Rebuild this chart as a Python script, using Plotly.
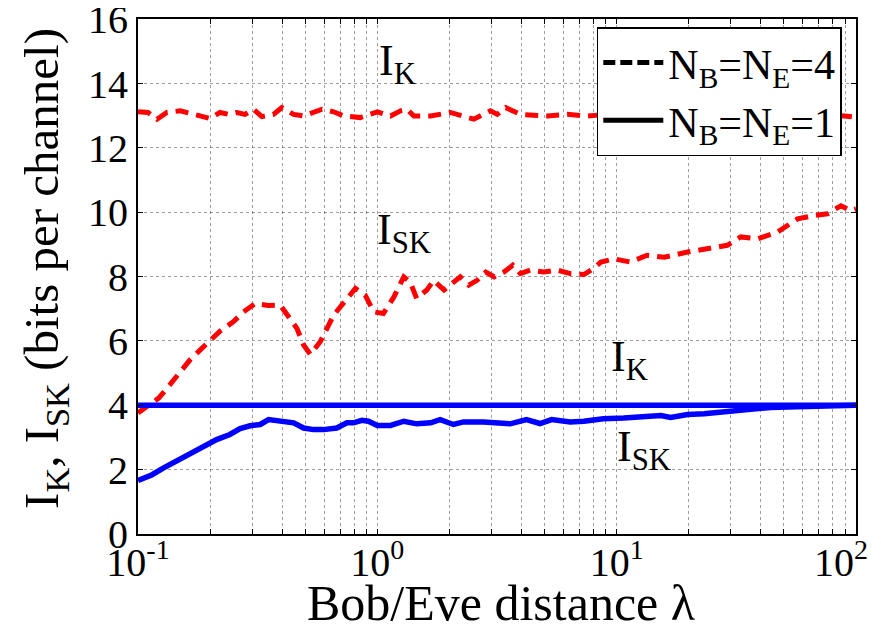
import plotly.graph_objects as go

# ---------------- data ----------------
lam_ik4 = [0.1, 0.11, 0.12, 0.132, 0.15, 0.165, 0.182, 0.2, 0.22, 0.239, 0.259, 0.28,
           0.304, 0.329, 0.368, 0.399, 0.447, 0.492, 0.541, 0.587, 0.657, 0.724, 0.849,
           1.0, 1.135, 1.25, 1.33, 1.42, 1.67, 2.02, 2.53, 2.97, 3.17, 3.44, 3.96, 5.13,
           6.22, 7.54, 9.5, 12, 15, 20, 27, 35, 45, 60, 75, 90, 100]
ik4 = [13.12, 13.1, 12.89, 13.1, 13.15, 13.07, 12.97, 12.91, 13.1, 13.04, 13.1, 13.04,
       13.2, 12.97, 13.04, 13.25, 13.04, 12.99, 13.1, 13.2, 13.12, 12.99, 12.94,
       13.12, 12.99, 13.15, 13.2, 12.99, 12.99, 13.1, 12.89, 13.15, 13.04, 13.25, 13.04, 12.99,
       13.04, 12.99, 13.05, 13.0, 13.1, 13.0, 13.05, 12.95, 13.05, 13.0, 13.05, 13.0, 12.95]

lam_isk4 = [0.1, 0.112, 0.122, 0.133, 0.147, 0.165, 0.182, 0.2, 0.22, 0.25, 0.276, 0.309,
            0.35, 0.393, 0.461, 0.492, 0.525, 0.578, 0.657, 0.81, 0.89, 0.966, 1.06, 1.17,
            1.29, 1.37, 1.46, 1.61, 1.72, 1.90, 2.05, 2.22, 2.41, 2.61, 2.84, 3.08, 3.38,
            3.68, 3.96, 4.36, 4.96, 5.65, 6.4, 7.3, 8.0, 8.6, 9.74, 11.4, 13.4, 15.8, 19.8,
            24.7, 29, 33, 38.8, 47, 57, 67, 76, 86.5, 95, 100]
isk4 = [3.76, 4.02, 4.22, 4.55, 4.94, 5.41, 5.72, 6.0, 6.3, 6.59, 6.9, 7.16,
        7.1, 7.11, 6.39, 5.87, 5.58, 5.98, 6.8, 7.63, 7.42, 6.9, 6.85, 7.35,
        7.99, 7.83, 7.32, 7.58, 7.88, 7.58, 7.78, 7.99, 7.73, 7.88, 8.14, 7.99, 8.14,
        8.35, 8.09, 8.2, 8.14, 8.2, 8.09, 8.06, 8.25, 8.45, 8.55, 8.45, 8.66, 8.6, 8.76,
        8.86, 8.97, 9.23, 9.17, 9.38, 9.79, 9.9, 9.95, 10.2, 10.05, 10.1]

lam_ik1 = [0.1, 1, 10, 100]
ik1 = [4.0, 4.0, 4.0, 4.0]

lam_isk1 = [0.1, 0.114, 0.128, 0.15, 0.176, 0.213, 0.242, 0.267, 0.294, 0.324, 0.351, 0.38,
            0.447, 0.492, 0.541, 0.596, 0.677, 0.746, 0.795, 0.862, 0.918, 1.0, 1.135, 1.29,
            1.46, 1.67, 1.83, 2.08, 2.29, 2.78, 3.59, 4.2, 4.78, 5.35, 6.4, 7.3, 8.8, 10.7,
            13, 15.3, 16.8, 19.8, 23.2, 27.3, 31.7, 37.5, 44, 51.6, 60.5, 71, 83.5, 100]
isk1 = [1.66, 1.83, 2.05, 2.31, 2.57, 2.93, 3.09, 3.27, 3.36, 3.4, 3.55, 3.53,
        3.45, 3.29, 3.24, 3.24, 3.29, 3.45, 3.45, 3.53, 3.5, 3.37, 3.37, 3.5,
        3.42, 3.45, 3.55, 3.4, 3.48, 3.48, 3.42, 3.55, 3.43, 3.55, 3.48, 3.5, 3.58, 3.6,
        3.65, 3.68, 3.62, 3.71, 3.73, 3.79, 3.83, 3.91, 3.93, 3.94, 3.96, 3.98, 3.99, 4.0]

legend_names = ["N<sub>B</sub>=N<sub>E</sub>=4", "N<sub>B</sub>=N<sub>E</sub>=1"]
x_major = [0.1, 1, 10, 100]
x_major_text = ["10<sup>-1</sup>", "10<sup>0</sup>", "10<sup>1</sup>",
                "10<sup>2</sup>\u00a0\u00a0\u00a0"]
y_ticks = [0, 2, 4, 6, 8, 10, 12, 14, 16]
x_title = "Bob/Eve distance λ"
y_title = "I<sub>K</sub>, I<sub>SK</sub> (bits per channel)"

# ---------------- figure ----------------
FONT = "Liberation Serif"
RED = "#FF0000"
BLUE = "#0000FF"
DASH = "13px,8px"

x_tickvals, x_ticktext = [], []
for i, d in enumerate(x_major):
    x_tickvals.append(d)
    x_ticktext.append(x_major_text[i])
    if d < 100:
        for m in range(2, 10):
            x_tickvals.append(d * m)
            x_ticktext.append("")

fig = go.Figure()
fig.add_trace(go.Scatter(x=lam_ik4, y=ik4, mode="lines", showlegend=False,
                         line=dict(color=RED, width=5, dash=DASH)))
fig.add_trace(go.Scatter(x=lam_isk4, y=isk4, mode="lines", showlegend=False,
                         line=dict(color=RED, width=5, dash=DASH)))
fig.add_trace(go.Scatter(x=lam_ik1, y=ik1, mode="lines", showlegend=False,
                         line=dict(color=BLUE, width=5.5)))
fig.add_trace(go.Scatter(x=lam_isk1, y=isk1, mode="lines", showlegend=False,
                         line=dict(color=BLUE, width=5.5)))
fig.add_trace(go.Scatter(x=[None], y=[None], mode="lines", name=legend_names[0],
                         line=dict(color="black", width=5, dash="12px,5px")))
fig.add_trace(go.Scatter(x=[None], y=[None], mode="lines", name=legend_names[1],
                         line=dict(color="black", width=5)))

ann_font = dict(family=FONT, size=44, color="black")
labels = [
    ("I<sub>K</sub>", 0.0, 13.7),
    ("I<sub>SK</sub>", -0.01, 8.45),
    ("I<sub>K</sub>", 0.97, 4.5),
    ("I<sub>SK</sub>", 0.995, 1.7),
]
for txt, lx, ly in labels:
    fig.add_annotation(text=txt, x=lx, y=ly, xref="x", yref="y", showarrow=False,
                       xanchor="left", yanchor="bottom", font=ann_font)

# axis titles
fig.add_annotation(text=x_title, xref="paper", yref="paper", x=0.505, y=-0.134,
                   xanchor="center", yanchor="middle", showarrow=False,
                   font=dict(family=FONT, size=50, color="black"))
fig.add_annotation(text=y_title, xref="paper", yref="paper", x=-0.13, y=0.516,
                   xanchor="center", yanchor="middle", showarrow=False, textangle=-90,
                   font=dict(family=FONT, size=49, color="black"))

axis_common = dict(showline=True, linecolor="black", linewidth=2, mirror="ticks",
                   ticks="inside", ticklen=5, tickcolor="black", tickwidth=1,
                   showgrid=True, gridcolor="rgba(0,0,0,0.38)", gridwidth=1,
                   griddash="dot", zeroline=False, ticklabeloverflow="allow",
                   automargin=False,
                   tickfont=dict(family=FONT, size=40, color="black"))

# the page body adds an 8px offset, so margins are shifted to compensate
fig.update_layout(
    width=881, height=631,
    margin=dict(l=130, r=33, t=11, b=105, autoexpand=False),
    paper_bgcolor="white", plot_bgcolor="white",
    font=dict(family=FONT, color="black"),
    xaxis=dict(type="log", range=[-1.0001, 2.0001], tickmode="array", tickvals=x_tickvals,
               ticktext=x_ticktext, ticklabelstandoff=-8, **axis_common),
    yaxis=dict(range=[-0.005, 16.005], tickmode="array", tickvals=y_ticks,
               **axis_common),
    legend=dict(x=0.639, y=0.984, xanchor="left", yanchor="top",
                bgcolor="white", bordercolor="black", borderwidth=1.5,
                font=dict(family=FONT, size=42, color="black"),
                itemwidth=60, tracegroupgap=0),
)

fig.write_html("out.html")
